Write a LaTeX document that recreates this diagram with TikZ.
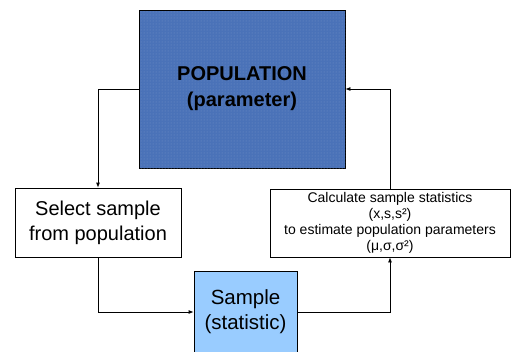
\documentclass[tikz,border=0pt]{standalone}
\usepackage{fontspec}
\setmainfont{Liberation Sans}
\usepackage{tikz}
\usetikzlibrary{arrows.meta, patterns, positioning}
\definecolor{popblue}{RGB}{74,114,184}
\definecolor{sampblue}{RGB}{153,204,255}

\begin{document}
\begin{tikzpicture}[x=1pt, y=-1pt,
    boxes/.style={draw=black, line width=0.8pt, inner sep=0pt, align=center, fill=white},
    flow/.style={line width=0.8pt, -{Latex[length=5pt, width=4pt]}}]
        \useasboundingbox (0,0) rectangle (513,351);

        \node[boxes, fill=popblue, minimum width=206pt, minimum height=158pt,
            postaction={pattern=dots, pattern color=white!22!popblue},
            font=\fontsize{20}{26}\selectfont\bfseries] (pop) at (242,89) {POPULATION\\(parameter)};
        \node[boxes, minimum width=166pt, minimum height=69pt,
            font=\fontsize{20}{25}\selectfont] (sel) at (98,222.5) {Select sample\\from population};
        \node[boxes, minimum width=240pt, minimum height=68pt,
            font=\fontsize{14}{16}\selectfont] (calc) at (390,223) {Calculate sample statistics\\(x,s,s²)\\to estimate population parameters\\(μ,σ,σ²)};
        \node[boxes, fill=sampblue, minimum width=103pt, minimum height=82pt,
            font=\fontsize{20.5}{25}\selectfont] (samp) at (245.5,312) {Sample\\(statistic)};

        \draw[flow] (pop.west) -| (sel.north);
        \draw[flow] (sel.south) |- (samp.west);
        \draw[flow] (samp.east) -| (calc.south);
        \draw[flow] (calc.north) |- (pop.east);
\end{tikzpicture}
\end{document}
